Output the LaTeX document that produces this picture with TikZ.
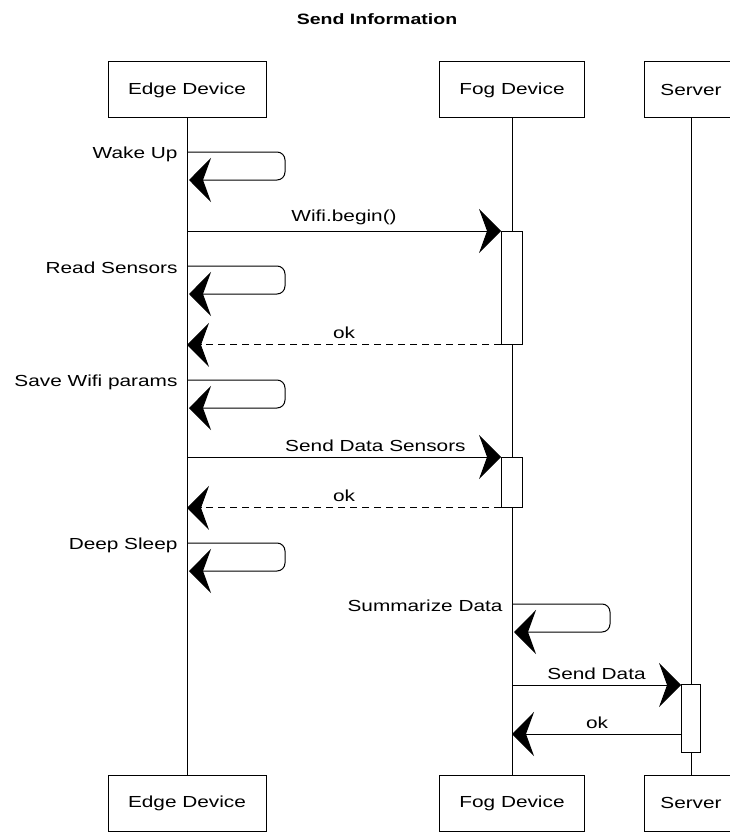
\documentclass[tikz,border=0pt]{standalone}
\usepackage{fontspec}
\setmainfont{Liberation Sans}[FakeStretch=1.3]
\usetikzlibrary{arrows.meta}

\begin{document}
\begin{tikzpicture}[x=1pt,y=-1pt,
  actor/.style={draw,line width=1pt,minimum height=56pt,inner sep=0pt,font=\fontsize{16}{19}\selectfont},
  life/.style={line width=0.8pt},
  act/.style={draw,fill=white,line width=0.9pt},
  msg/.style={line width=1pt,-{Stealth[length=22pt,width=44pt,inset=8pt]}},
  ret/.style={msg,dash pattern=on 7pt off 5pt},
  lbl/.style={font=\fontsize{16}{19}\selectfont}]
  \useasboundingbox (0,0) rectangle (729,832);
  \node[font=\bfseries\fontsize{15}{18}\selectfont] (title) at (377,19) {Send Information};
  % actors
  \node[actor,minimum width=158pt] (edgeT) at (187,90)  {Edge Device};
  \node[actor,minimum width=145pt] (fogT)  at (512,90)  {Fog Device};
  \node[actor,minimum width=94pt]  (srvT)  at (691,90)  {Server};
  \node[actor,minimum width=158pt] (edgeB) at (187,803) {Edge Device};
  \node[actor,minimum width=145pt] (fogB)  at (512,803) {Fog Device};
  \node[actor,minimum width=94pt]  (srvB)  at (691,803) {Server};
  \draw[life] (edgeT) -- (edgeB);
  \draw[life] (fogT) -- (fogB);
  \draw[life] (srvT) -- (srvB);
  % activations
  \node[act,minimum width=21pt,minimum height=113pt,anchor=north] (a1) at (512,231) {};
  \node[act,minimum width=21pt,minimum height=50pt,anchor=north]  (a2) at (512,457) {};
  \node[act,minimum width=19pt,minimum height=68pt,anchor=north]  (a3) at (691,684) {};
  % self messages on the edge device
  \foreach \y/\t in {152/Wake Up,266/Read Sensors,380/Save Wifi params,543/Deep Sleep}{
    \coordinate (s) at (187,\y);
    \coordinate (e) at (189,\y+28);
    \draw[msg,rounded corners=8pt] (s) -- ++(98,0) -- ++(0,28) -- (e);
    \node[lbl,anchor=east] at ([shift={(-6,2)}]s) {\t};
  }
  % self message on the fog device
  \coordinate (f1) at (512,604);
  \coordinate (f2) at (514,632);
  \draw[msg,rounded corners=8pt] (f1) -- ++(98,0) -- ++(0,28) -- (f2);
  \node[lbl,anchor=east] at ([shift={(-6,2)}]f1) {Summarize Data};
  % calls and returns
  \coordinate (m1) at (187,231);
  \coordinate (m2) at (187,457);
  \coordinate (m3) at (512,685);
  \coordinate (r3) at (682,734);
  \draw[msg] (m1) -- (m1 -| a1.west) node[lbl,midway,above=2pt] {Wifi.begin()};
  \draw[ret] (a1.south west) -- (a1.south west -| edgeT) node[lbl,midway,above=2pt] {ok};
  \draw[msg] (m2) -- (m2 -| a2.west) node[lbl,pos=0.6,above=2pt] {Send Data Sensors};
  \draw[ret] (a2.south west) -- (a2.south west -| edgeT) node[lbl,midway,above=2pt] {ok};
  \draw[msg] (m3) -- (m3 -| a3.west) node[lbl,midway,above=2pt] {Send Data};
  \draw[msg] (r3) -- (r3 -| fogT) node[lbl,midway,above=2pt] {ok};
\end{tikzpicture}
\end{document}
